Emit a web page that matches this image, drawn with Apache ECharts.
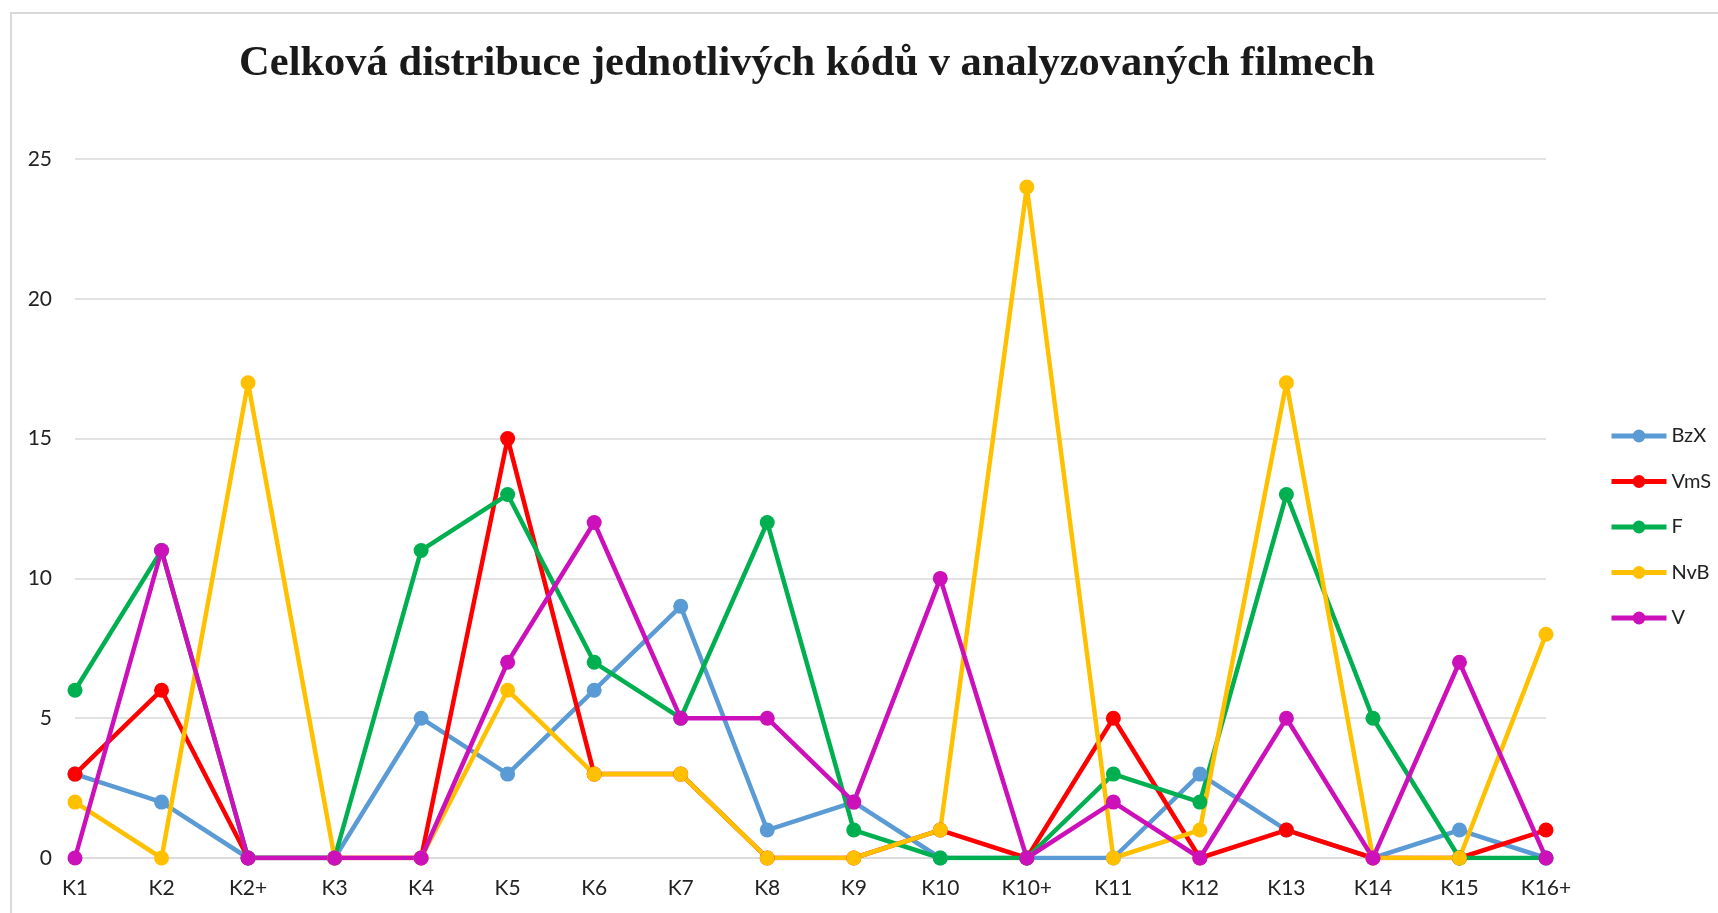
<!DOCTYPE html>
<html>
<head>
<meta charset="utf-8">
<script src="https://cdn.jsdelivr.net/npm/echarts@6/dist/echarts.min.js"></script>
<style>
  html, body { margin: 0; padding: 0; background: #fff; }
  #main { width: 1718px; height: 913px; }
</style>
</head>
<body>
<div id="main"></div>
<script>
var codes = ['K1', 'K2', 'K2+', 'K3', 'K4', 'K5', 'K6', 'K7', 'K8', 'K9', 'K10', 'K10+', 'K11', 'K12', 'K13', 'K14', 'K15', 'K16+'];

var bzx = [3, 2, 0, 0, 5, 3, 6, 9, 1, 2, 0, 0, 0, 3, 1, 0, 1, 0];
var vms = [3, 6, 0, 0, 0, 15, 3, 3, 0, 0, 1, 0, 5, 0, 1, 0, 0, 1];
var f = [6, 11, 0, 0, 11, 13, 7, 5, 12, 1, 0, 0, 3, 2, 13, 5, 0, 0];
var nvb = [2, 0, 17, 0, 0, 6, 3, 3, 0, 0, 1, 24, 0, 1, 17, 0, 0, 8];
var v = [0, 11, 0, 0, 0, 7, 12, 5, 5, 2, 10, 0, 2, 0, 5, 0, 7, 0];

var seriesNames = ['BzX', 'VmS', 'F', 'NvB', 'V'];
var seriesData = [bzx, vms, f, nvb, v];
var colors = ['#5B9BD5', '#FF0000', '#00B050', '#FFC000', '#CC11BB'];

var myChart = echarts.init(document.getElementById('main'));

myChart.setOption({
  animation: false,
  color: colors,
  textStyle: { fontFamily: 'Lato' },
  graphic: [
    {
      type: 'rect',
      shape: { x: 11, y: 13, width: 2000, height: 2000 },
      style: { fill: 'none', stroke: '#d9d9d9', lineWidth: 2 },
      silent: true
    },
    {
      type: 'text',
      x: 807,
      y: 64,
      style: {
        text: 'Celková distribuce jednotlivých kódů v analyzovaných filmech',
        font: 'bold 42.5px "Liberation Serif"',
        fill: '#1a1a1a',
        align: 'center',
        verticalAlign: 'middle'
      }
    }
  ],
  legend: {
    orient: 'vertical',
    left: 1609,
    top: 426,
    padding: 0,
    itemWidth: 55,
    itemHeight: 16,
    itemGap: 25.5,
    lineStyle: { width: 5 },
    textStyle: { fontSize: 20, color: '#222' },
    data: seriesNames
  },
  grid: { left: 75, right: 172, top: 159, bottom: 55, containLabel: false },
  xAxis: {
    type: 'category',
    data: codes,
    boundaryGap: false,
    axisLine: { lineStyle: { color: '#d9d9d9', width: 1.5 } },
    axisTick: { show: false },
    axisLabel: { fontSize: 21, color: '#222', margin: 20 }
  },
  yAxis: {
    type: 'value',
    min: 0,
    max: 25,
    interval: 5,
    axisLine: { show: false },
    axisTick: { show: false },
    splitLine: { lineStyle: { color: '#d9d9d9', width: 1.5 } },
    axisLabel: { fontSize: 21, color: '#222', margin: 23 }
  },
  series: seriesNames.map(function (name, i) {
    return {
      name: name,
      type: 'line',
      data: seriesData[i],
      symbol: 'circle',
      symbolSize: 15,
      lineStyle: { width: 4.5 },
      itemStyle: { color: colors[i] }
    };
  })
});
</script>
</body>
</html>
